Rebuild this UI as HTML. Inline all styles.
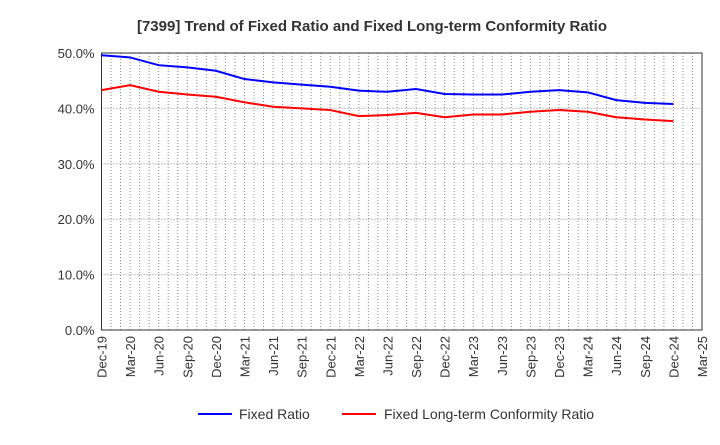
<!DOCTYPE html>
<html><head><meta charset="utf-8"><style>
body{margin:0;background:#fff;font-family:"Liberation Sans",sans-serif}
</style></head><body>
<svg id="chart" width="720" height="440" xmlns="http://www.w3.org/2000/svg">
<text x="372" y="31" text-anchor="middle" font-size="15" font-weight="bold" fill="#333">[7399]  Trend of Fixed Ratio and Fixed Long-term Conformity Ratio</text>
<g id="grid"></g><g id="axes"></g><g id="series"></g>
<g>
<line x1="198" y1="414" x2="232" y2="414" stroke="#0000ff" stroke-width="2"/>
<text x="239" y="419" font-size="14" fill="#333">Fixed Ratio</text>
<line x1="342" y1="414" x2="376" y2="414" stroke="#ff0000" stroke-width="2"/>
<text x="384" y="419" font-size="14" fill="#333">Fixed Long-term Conformity Ratio</text>
</g>
</svg>
<script>
const xLabels=["Dec-19","Mar-20","Jun-20","Sep-20","Dec-20","Mar-21","Jun-21","Sep-21","Dec-21","Mar-22","Jun-22","Sep-22","Dec-22","Mar-23","Jun-23","Sep-23","Dec-23","Mar-24","Jun-24","Sep-24","Dec-24","Mar-25"];
const yTicks=[0,10,20,30,40,50];
const fixedRatio=[49.6,49.2,47.8,47.4,46.8,45.3,44.7,44.3,43.9,43.2,43.0,43.5,42.6,42.5,42.5,43.0,43.3,42.9,41.5,41.0,40.8];
const fixedLongTerm=[43.3,44.2,43.0,42.5,42.1,41.1,40.3,40.0,39.7,38.6,38.8,39.2,38.4,38.9,38.9,39.4,39.7,39.4,38.4,38.0,37.7];
const L=101.5,R=702,T=53,B=330;
const NS="http://www.w3.org/2000/svg";
const nQ=xLabels.length-1;
const xq=i=>L+(R-L)*i/nQ;
const y=v=>B-(B-T)*v/50;
function mk(tag,at,p){const e=document.createElementNS(NS,tag);for(const k in at)e.setAttribute(k,at[k]);p.appendChild(e);return e;}
const grid=document.getElementById('grid'),axes=document.getElementById('axes'),ser=document.getElementById('series');
for(let m=1;m<nQ*3;m++){const x=L+(R-L)*m/(nQ*3);
const g=mk('line',{x1:x,x2:x,y1:T,y2:B,stroke:'#888','stroke-dasharray':'1,2','stroke-width':1},grid);

}
yTicks.forEach(v=>{
if(v>0&&v<50){const g=mk('line',{x1:L,x2:R,y1:y(v),y2:y(v),stroke:'#888','stroke-dasharray':'1,2'},grid);

}
const t=mk('text',{x:L-7,y:y(v)+5,'text-anchor':'end','font-size':13,fill:'#333'},axes);t.textContent=v.toFixed(1)+'%';


});
const fr=mk('rect',{x:L,y:T,width:R-L,height:B-T,fill:'none',stroke:'#333','stroke-width':1},axes);


xLabels.forEach((s,i)=>{const x=xq(i);
const t=mk('text',{x:0,y:0,'text-anchor':'end','font-size':13,fill:'#333',transform:`translate(${x+5},336) rotate(-90)`},axes);t.textContent=s;

});
function line(d,c,name){const p=mk('polyline',{points:d.map((v,i)=>xq(i)+','+y(v)).join(' '),fill:'none',stroke:c,'stroke-width':2},ser);

}
line(fixedRatio,'#0000ff','fixed-ratio-line');
line(fixedLongTerm,'#ff0000','fixed-long-term-line');
</script>
</body></html>
